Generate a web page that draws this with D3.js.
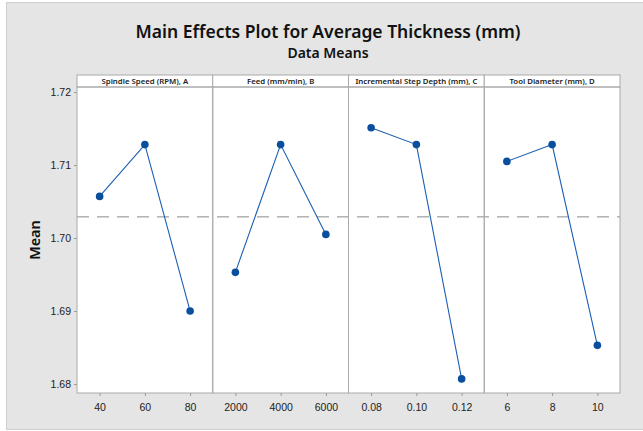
<!DOCTYPE html>
<html>
<head>
<meta charset="utf-8">
<script src="https://cdn.jsdelivr.net/npm/d3@7"></script>
<style>
  body { margin: 0; background: #fff; }
  svg { display: block; font-family: "Noto Sans", "Open Sans", sans-serif; }
</style>
</head>
<body>
<svg id="chart" width="643" height="431"></svg>
<script>
// factors and their level labels
const factors = ['Spindle Speed (RPM), A', 'Feed (mm/min), B', 'Incremental Step Depth (mm), C', 'Tool Diameter (mm), D']
const levelsA = ['40', '60', '80']
const levelsB = ['2000', '4000', '6000']
const levelsC = ['0.08', '0.10', '0.12']
const levelsD = ['6', '8', '10']
// means
const meansA = [1.7057, 1.7128, 1.6900]
const meansB = [1.6953, 1.7128, 1.7005]
const meansC = [1.7151, 1.7128, 1.6807]
const meansD = [1.7105, 1.7128, 1.6853]
const grandMean = 1.7029
const yTicks = [1.68, 1.69, 1.70, 1.71, 1.72]

const levels = [levelsA, levelsB, levelsC, levelsD]
const means = [meansA, meansB, meansC, meansD]

const svg = d3.select('#chart')
const W = 643
const pLeft = 77, pRight = 620, pTop = 75, stripH = 12, pBottom = 393
const panelW = (pRight - pLeft) / factors.length

// shrink a text until it fits a width
function fit(sel, w) {
  let fs = +sel.attr('font-size')
  while (sel.node().getComputedTextLength() > w && fs > 6) {
    fs -= 0.25
    sel.attr('font-size', fs)
  }
}

// background
svg.append('rect')
  .attr('x', 6.5).attr('y', 2.5)
  .attr('width', W - 6).attr('height', 427)
  .attr('fill', '#e5e5e5')
  .attr('stroke', '#cfcfcf')

const title = svg.append('text')
  .attr('x', 328).attr('y', 38)
  .attr('text-anchor', 'middle')
  .attr('font-size', 20)
  .attr('font-weight', 600)
  .attr('fill', '#111')
  .text('Main Effects Plot for Average Thickness (mm)')
fit(title, 390)

const sub = svg.append('text')
  .attr('x', 328).attr('y', 58)
  .attr('text-anchor', 'middle')
  .attr('font-size', 14)
  .attr('font-weight', 600)
  .attr('fill', '#111')
  .text('Data Means')
fit(sub, 84)

const y = d3.scaleLinear()
  .domain([1.67877, 1.72069])
  .range([pBottom, pTop + stripH])

// plot area
svg.append('rect')
  .attr('x', pLeft).attr('y', pTop + stripH)
  .attr('width', pRight - pLeft).attr('height', pBottom - pTop - stripH)
  .attr('fill', '#fff')

const yAxis = d3.axisLeft(y).tickValues(yTicks).tickFormat(d3.format('.2f')).tickSize(3)
const ga = svg.append('g').attr('transform', `translate(${pLeft},0)`).call(yAxis)
ga.select('.domain').remove()
ga.selectAll('line').attr('stroke', '#999')
ga.selectAll('text').attr('font-size', 10.5).attr('fill', '#222').attr('x', -6)

svg.append('text')
  .attr('transform', `translate(40,${(pTop + stripH + pBottom) / 2}) rotate(-90)`)
  .attr('text-anchor', 'middle')
  .attr('font-size', 14.5)
  .attr('font-weight', 600)
  .attr('fill', '#111')
  .text('Mean')

// dashed grand mean
svg.append('line')
  .attr('x1', pLeft).attr('x2', pRight)
  .attr('y1', y(grandMean)).attr('y2', y(grandMean))
  .attr('stroke', '#8a8a8a')
  .attr('stroke-width', 1)
  .attr('stroke-dasharray', '12,8')

factors.forEach((f, i) => {
  const x0 = pLeft + i * panelW
  const x = d3.scalePoint().domain(levels[i]).range([x0, x0 + panelW]).padding(0.5)

  // strip
  svg.append('rect')
    .attr('x', x0).attr('y', pTop)
    .attr('width', panelW).attr('height', stripH)
    .attr('fill', '#fff').attr('stroke', '#aaa')
  svg.append('text')
    .attr('x', x0 + panelW / 2).attr('y', pTop + 9)
    .attr('text-anchor', 'middle')
    .attr('font-size', 7.8)
    .attr('font-weight', 600)
    .attr('fill', '#222')
    .text(f)

  // panel frame
  svg.append('rect')
    .attr('x', x0).attr('y', pTop + stripH)
    .attr('width', panelW).attr('height', pBottom - pTop - stripH)
    .attr('fill', 'none').attr('stroke', '#aaa')

  const xAxis = d3.axisBottom(x).tickSize(3)
  const gx = svg.append('g').attr('transform', `translate(0,${pBottom})`).call(xAxis)
  gx.select('.domain').remove()
  gx.selectAll('line').attr('stroke', '#999')
  gx.selectAll('text').attr('font-size', 10.5).attr('fill', '#222').attr('dy', '1.1em')

  const pts = levels[i].map((l, j) => [x(l), y(means[i][j])])
  svg.append('path')
    .attr('d', d3.line()(pts))
    .attr('fill', 'none')
    .attr('stroke', '#1a5fb4')
    .attr('stroke-width', 1.1)
  svg.selectAll(null)
    .data(pts)
    .join('circle')
    .attr('cx', d => d[0]).attr('cy', d => d[1])
    .attr('r', 3.8)
    .attr('fill', '#0a4f9e')
})
</script>
</body>
</html>
